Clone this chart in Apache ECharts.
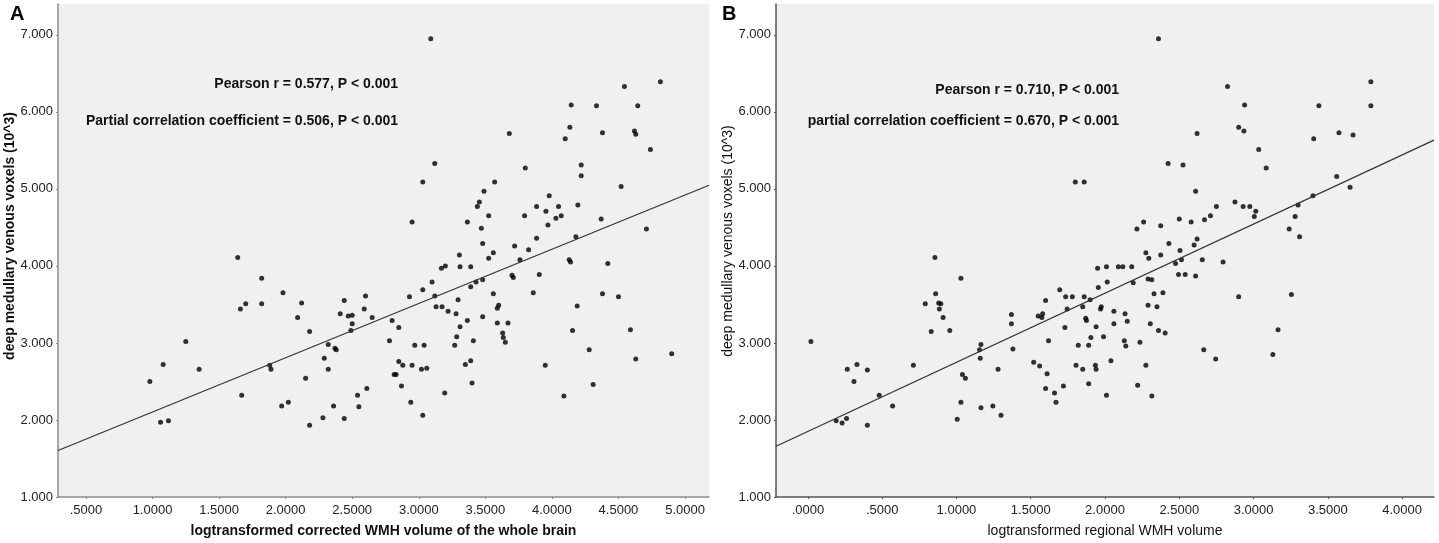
<!DOCTYPE html>
<html>
<head>
<meta charset="utf-8">
<script src="https://cdn.jsdelivr.net/npm/echarts@6/dist/echarts.min.js"></script>
<style>
html, body { margin: 0; padding: 0; background: #fff; }
#chart { width: 1439px; height: 543px; }
</style>
</head>
<body>
<div id="chart"></div>
<script>
// panel A: whole brain WMH volume vs DMV voxels
var pointsA = [
    [0.98,2.50],[1.08,2.72],[1.06,1.97],[1.12,1.99],[1.25,3.02],[1.35,2.66],[1.64,4.11],[1.82,3.84],
    [1.66,3.44],[1.70,3.51],[1.82,3.51],[1.67,2.32],[1.88,2.71],[1.89,2.66],[1.98,3.65],[1.97,2.18],
    [2.02,2.23],[2.12,3.52],[2.09,3.33],[2.18,3.15],[2.15,2.54],[2.18,1.93],[2.28,2.03],[2.29,2.80],
    [2.32,2.98],[2.32,2.66],[2.36,2.18],[2.37,2.93],[2.38,2.91],[2.41,3.38],[2.44,3.55],[2.44,2.02],
    [2.47,3.35],[2.50,3.36],[2.50,3.25],[2.49,3.16],[2.54,2.32],[2.55,2.17],
    [3.09,6.95],[3.12,5.33],[3.03,5.09],[2.95,4.57],[3.44,4.77],[3.455,4.83],[3.365,4.57],[3.305,4.14],
    [3.17,3.97],[3.20,4.00],[3.31,3.99],[3.39,3.99],[3.10,3.79],[3.03,3.69],[2.93,3.60],[3.12,3.61],
    [3.43,3.79],[3.39,3.73],[3.13,3.47],[3.175,3.47],[3.22,3.41],[3.295,3.56],[3.28,3.38],[3.365,3.29],
    [3.31,3.21],[3.285,3.08],[3.27,2.97],[3.41,3.03],[3.39,2.77],[3.35,2.72],[3.40,2.48],[3.195,2.35],
    [3.03,2.06],[2.94,2.23],[2.87,2.44],[3.06,2.67],[3.02,2.66],[2.95,2.71],[2.88,2.71],[2.85,2.76],
    [2.815,2.59],[2.83,2.59],[3.04,2.97],[2.97,2.97],[2.78,3.03],[2.85,3.20],[2.80,3.29],[2.65,3.33],
    [2.60,3.61],[2.59,3.44],[2.61,2.41],
    [3.49,4.97],[3.525,4.65],[3.47,4.49],[3.48,4.29],[3.525,4.10],[3.56,4.17],[3.57,5.09],[3.68,5.72],
    [3.80,5.27],[3.72,4.26],[3.76,4.08],[3.795,4.65],[3.885,4.77],[3.885,4.36],[3.825,4.21],[3.905,3.89],
    [3.98,4.91],[3.955,4.71],[4.05,4.77],[3.97,4.53],[4.03,4.62],[4.07,4.65],[4.10,5.65],[4.135,5.80],
    [4.145,6.09],[4.195,4.79],[4.22,5.31],[4.22,5.17],[4.18,4.38],[4.13,4.08],[4.14,4.05],[4.335,6.08],
    [4.38,5.73],[4.37,4.61],[4.42,4.03],[4.545,6.33],[4.52,5.03],[4.645,6.08],[4.62,5.75],[4.63,5.71],
    [4.74,5.51],[4.71,4.48],[4.815,6.39],
    [3.48,3.82],[3.56,3.64],[3.70,3.88],[3.71,3.85],[3.86,3.65],[3.48,3.34],[3.59,3.45],[3.60,3.49],
    [3.59,3.26],[3.63,3.13],[3.635,3.07],[3.65,3.01],[3.67,3.26],[3.95,2.71],[4.09,2.31],[4.155,3.16],
    [4.19,3.48],[4.28,2.91],[4.31,2.46],[4.38,3.64],[4.50,3.60],[4.59,3.17],[4.63,2.79],[4.90,2.86]
];
// panel B: regional WMH volume vs DMV voxels
var pointsB = [
    [0.02,3.02],[0.19,1.99],[0.23,1.96],[0.26,2.02],[0.265,2.66],[0.33,2.72],[0.31,2.50],[0.40,2.65],
    [0.40,1.93],[0.48,2.32],[0.57,2.18],[0.71,2.71],[0.79,3.51],[0.83,3.15],[0.86,3.64],[0.88,3.52],
    [0.895,3.51],[0.885,3.44],[0.91,3.33],[0.955,3.16],[0.855,4.11],[1.03,3.84],[1.04,2.59],[1.06,2.54],
    [1.03,2.23],[1.005,2.01],[1.165,2.98],[1.155,2.91],[1.16,2.80],[1.165,2.16],[1.245,2.18],[1.28,2.66],
    [1.30,2.06],[1.37,3.37],[1.37,3.25],[1.38,2.92],[1.52,2.75],[1.56,2.70],[1.55,3.35],[1.575,3.33],
    [1.58,3.38],[1.60,3.55],[1.62,3.03],[1.61,2.60],[1.60,2.41],[1.66,2.35],[1.67,2.23],[1.72,2.44],
    [1.695,3.69],[1.735,3.60],[1.78,3.60],[1.745,3.44],[1.73,3.20],[1.805,2.71],[1.82,2.97],
    [1.80,5.09],[1.86,5.09],[1.86,3.60],[1.85,3.47],[1.87,3.32],[1.875,3.29],[1.85,2.66],[1.89,2.97],
    [1.89,2.47],[1.90,3.56],[1.905,3.07],[1.95,3.97],[1.955,3.72],[1.97,3.44],[1.975,3.47],[1.94,3.21],
    [1.99,3.08],[1.935,2.71],[1.94,2.66],[2.01,3.99],[2.015,3.79],[2.06,3.41],[2.06,3.25],[2.04,2.77],
    [2.01,2.32],[2.09,3.99],[2.12,3.99],[2.18,3.99],[2.135,3.38],[2.15,3.28],[2.13,3.03],[2.14,2.96],
    [2.235,3.01],[2.19,3.78],[2.215,4.48],[2.26,4.57],[2.275,2.71],[2.22,2.45],[2.315,2.31],[2.275,4.17],
    [2.295,4.10],[2.29,3.83],[2.315,3.82],[2.33,3.64],[2.39,3.65],[2.29,3.49],[2.35,3.47],[2.305,3.25],
    [2.36,3.16],[2.405,3.13],[2.425,5.33],[2.525,5.31],[2.375,4.52],[2.43,4.29],[2.375,4.14],[2.50,4.61],
    [2.58,4.57],[2.61,4.97],[2.62,4.35],[2.60,4.27],[2.505,4.20],[2.515,4.08],[2.475,4.03],[2.495,3.89],
    [2.54,3.89],[2.61,3.87],
    [2.36,6.95],[2.62,5.72],[2.825,6.33],[2.94,6.09],[2.90,5.80],[2.935,5.75],[3.035,5.51],[3.085,5.27],
    [2.875,4.83],[2.93,4.77],[2.975,4.77],[3.015,4.71],[3.005,4.64],[2.75,4.77],[2.71,4.65],[2.67,4.60],
    [2.655,4.08],[2.795,4.05],[3.24,4.48],[3.28,4.64],[3.30,4.79],[3.31,4.38],[3.40,4.91],[3.405,5.65],
    [3.44,6.08],[3.56,5.16],[3.575,5.73],[3.65,5.02],[3.67,5.70],[3.79,6.39],[3.79,6.08],
    [2.665,2.91],[2.745,2.79],[2.90,3.60],[3.13,2.85],[3.165,3.17],[3.255,3.63]
];
// fit lines: [intercept, slope]
var fitA = [1.40, 0.704];
var fitB = [1.852, 0.897];
// axis ranges and tick values
var xRangeA = [0.29, 5.18];
var xRangeB = [-0.215, 4.215];
var yRange = [1, 7.4];
var xTicksA = [0.5, 1, 1.5, 2, 2.5, 3, 3.5, 4, 4.5, 5];
var xTicksB = [0, 0.5, 1, 1.5, 2, 2.5, 3, 3.5, 4];
var yTicks = [1, 2, 3, 4, 5, 6, 7];

var FONT = 'Liberation Sans, Arial, sans-serif';
var Y_NAME = 'deep medullary venous voxels (10^3)';

function fitLine(fit, range) {
    return [
        [range[0], fit[0] + fit[1] * range[0]],
        [range[1], fit[0] + fit[1] * range[1]]
    ];
}
function xFmt(v) {
    return v.toFixed(4).replace(/^0/, '');
}

function makeX(idx, range, ticks, name, bold, axisColor) {
    return {
        type: 'value', gridIndex: idx, min: range[0], max: range[1],
        name: name, nameLocation: 'middle', nameGap: 27,
        nameTextStyle: {fontFamily: FONT, fontSize: 14, fontWeight: bold ? 'bold' : 'normal', color: '#111'},
        axisLine: {show: true, onZero: false, lineStyle: {color: axisColor, width: 1.5}},
        axisTick: {show: true, length: 2, customValues: ticks, lineStyle: {color: axisColor}},
        axisLabel: {customValues: ticks, formatter: xFmt, fontFamily: FONT, fontSize: 13, color: '#222', margin: 7},
        splitLine: {show: false}
    };
}
function makeY(idx, axisColor) {
    return {
        type: 'value', gridIndex: idx, min: yRange[0], max: yRange[1],
        axisLine: {show: true, onZero: false, lineStyle: {color: axisColor, width: 1.5}},
        axisTick: {show: true, length: 2, customValues: yTicks, lineStyle: {color: axisColor}},
        axisLabel: {customValues: yTicks, formatter: function (v) { return v.toFixed(3); },
            fontFamily: FONT, fontSize: 13, color: '#222', margin: 5},
        splitLine: {show: false}
    };
}
function annot(r, t, txt) {
    return {type: 'text', right: r, top: t,
        style: {text: txt, fontFamily: FONT, fontSize: 14, fontWeight: 'bold', fill: '#111'}};
}
function yName(x, y, bold) {
    return {type: 'text', x: x, y: y, rotation: Math.PI / 2,
        style: {text: Y_NAME, fontFamily: FONT, fontSize: 14, fontWeight: bold ? 'bold' : 'normal',
            fill: '#111', align: 'center', verticalAlign: 'middle'}};
}

var option = {
    animation: false,
    backgroundColor: '#fff',
    grid: [
        {left: 58, right: 730, top: 4, bottom: 45, show: true, backgroundColor: '#f0f0f0', borderWidth: 0},
        {left: 776, right: 5, top: 4, bottom: 45, show: true, backgroundColor: '#f0f0f0', borderWidth: 0}
    ],
    xAxis: [
        makeX(0, xRangeA, xTicksA, 'logtransformed corrected WMH volume of the whole brain', true, '#8c8c8c'),
        makeX(1, xRangeB, xTicksB, 'logtransformed regional WMH volume', false, '#555')
    ],
    yAxis: [
        makeY(0, '#8c8c8c'),
        makeY(1, '#555')
    ],
    series: [
        {type: 'scatter', xAxisIndex: 0, yAxisIndex: 0, data: pointsA, symbolSize: 5,
            itemStyle: {color: '#000'}, silent: true},
        {type: 'scatter', xAxisIndex: 1, yAxisIndex: 1, data: pointsB, symbolSize: 5,
            itemStyle: {color: '#000'}, silent: true},
        {type: 'line', xAxisIndex: 0, yAxisIndex: 0, data: fitLine(fitA, xRangeA), showSymbol: false,
            symbol: 'none', lineStyle: {color: '#333', width: 1.2}, silent: true},
        {type: 'line', xAxisIndex: 1, yAxisIndex: 1, data: fitLine(fitB, xRangeB), showSymbol: false,
            symbol: 'none', lineStyle: {color: '#333', width: 1.2}, silent: true}
    ],
    graphic: [
        {type: 'text', left: 10, top: 4, style: {text: 'A', fontFamily: FONT, fontSize: 20, fontWeight: 'bold', fill: '#000'}},
        {type: 'text', left: 722, top: 4, style: {text: 'B', fontFamily: FONT, fontSize: 20, fontWeight: 'bold', fill: '#000'}},
        yName(10, 236, true),
        yName(728, 241, false),
        annot(1041, 77, 'Pearson r = 0.577, P < 0.001'),
        annot(1041, 114, 'Partial correlation coefficient = 0.506, P < 0.001'),
        annot(320, 83, 'Pearson r = 0.710, P < 0.001'),
        annot(320, 114, 'partial correlation coefficient = 0.670, P < 0.001')
    ]
};

var myChart = echarts.init(document.getElementById('chart'));
myChart.setOption(option);
</script>
</body>
</html>
